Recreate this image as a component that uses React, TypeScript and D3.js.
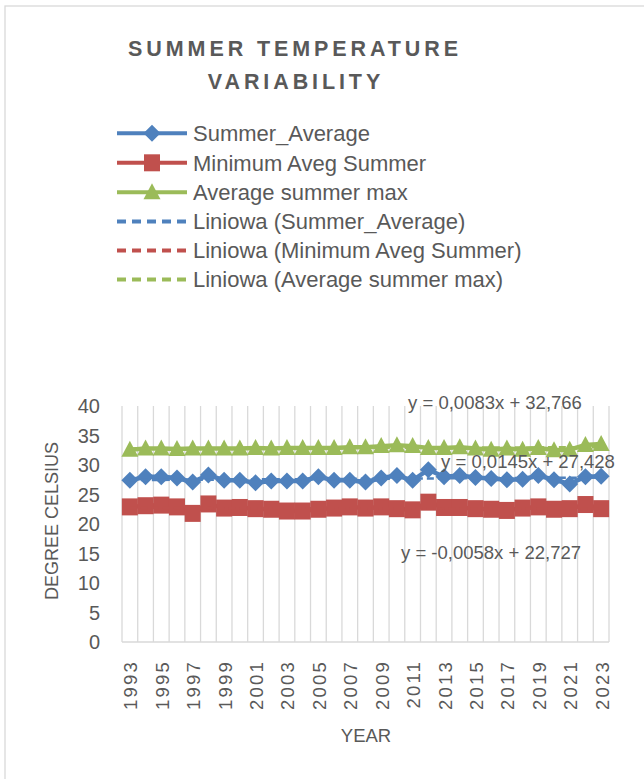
import * as d3 from 'd3';

const years = d3.range(1993, 2024);

const summerAverage = [
  27.4, 28.0, 28.0, 27.8, 27.1, 28.3, 27.4, 27.4, 27.0, 27.3, 27.3, 27.3, 28.0, 27.4, 27.4, 27.1,
  27.8, 28.2, 27.4, 29.2, 28.0, 28.2, 27.9, 27.7, 27.5, 27.6, 28.2, 27.5, 26.8, 28.0, 28.1,
];
const minimumAvegSummer = [
  22.9, 23.1, 23.2, 22.9, 21.8, 23.4, 22.7, 22.8, 22.6, 22.5, 22.2, 22.2, 22.5, 22.7, 22.9, 22.7,
  22.9, 22.6, 22.4, 23.7, 22.8, 22.8, 22.6, 22.5, 22.3, 22.7, 22.9, 22.5, 22.6, 23.3, 22.6,
];
const averageSummerMax = [
  32.6, 32.8, 32.8, 32.7, 32.8, 32.8, 32.8, 32.8, 32.9, 32.8, 32.9, 32.9, 32.9, 32.9, 33.0, 33.0,
  33.2, 33.35, 33.2, 32.9, 32.9, 33.0, 32.8, 32.6, 32.8, 32.6, 32.9, 32.5, 32.6, 33.4, 33.55,
];

// trendline equations as printed on the chart (x = 1..31)
const trendSlopes = [0.0145, -0.0058, 0.0083];
const trendIntercepts = [27.428, 22.727, 32.766];
const trendLabels = ['y = 0,0145x + 27,428', 'y = -0,0058x + 22,727', 'y = 0,0083x + 32,766'];

const seriesNames = ['Summer_Average', 'Minimum Aveg Summer', 'Average summer max'];
const trendNames = [
  'Liniowa (Summer_Average)',
  'Liniowa (Minimum Aveg Summer)',
  'Liniowa (Average summer max)',
];
const yTicks = d3.range(0, 41, 5);

const COLORS = ['#4f81bd', '#c0504d', '#9bbb59'];
const TEXT = '#595959';
const GRID = '#d9d9d9';
const FONT = '"Liberation Sans", Arial, sans-serif';

function Marker({ kind, x, y, color }: { kind: number; x: number; y: number; color: string }) {
  if (kind === 0) {
    const r = 8.5;
    return <polygon points={`${x},${y - r} ${x + r},${y} ${x},${y + r} ${x - r},${y}`} fill={color} />;
  }
  if (kind === 1) {
    return <rect x={x - 8} y={y - 8.5} width={16} height={17} fill={color} />;
  }
  return <polygon points={`${x},${y - 9} ${x + 8.5},${y + 7} ${x - 8.5},${y + 7}`} fill={color} />;
}

export default function App() {
  const W = 644;
  const H = 779;
  const plot = { left: 122, right: 609, top: 406, bottom: 642 };

  const x = d3.scaleBand<number>().domain(years).range([plot.left, plot.right]);
  const cx = (yr: number) => (x(yr) ?? 0) + x.bandwidth() / 2;
  const y = d3.scaleLinear().domain([0, 40]).range([plot.bottom, plot.top]);

  const series = [summerAverage, minimumAvegSummer, averageSummerMax];
  const line = d3
    .line<number>()
    .x((_, i) => cx(years[i]))
    .y(v => y(v));

  const trendLine = (k: number) =>
    d3
      .line<number>()
      .x(yr => cx(yr))
      .y((_, i) => y(trendSlopes[k] * (i + 1) + trendIntercepts[k]))(years) ?? '';

  const gridXs = [...years.map(yr => x(yr) ?? 0), plot.right];

  const legendRows = [133.3, 162.8, 192.2, 221.6, 250.6, 279.6];
  const legendOrder = [0, 1, 2];

  // label anchors for the trend equations (centre x, baseline y)
  const trendLabelPos = [
    { x: 528, y: 468 },
    { x: 491, y: 559 },
    { x: 495, y: 409 },
  ];

  return (
    <svg
      width={W}
      height={H}
      style={{ position: 'absolute', left: 0, top: 0, display: 'block', background: '#fff' }}
      fontFamily={FONT}
    >
      <rect x={5} y={6} width={W + 20} height={H + 20} fill="#fff" stroke={GRID} strokeWidth={1.3} />

      {/* title */}
      <g fill={TEXT} fontWeight="bold" fontSize={21.5} letterSpacing={3.9} textAnchor="middle">
        <text x={295} y={56}>SUMMER TEMPERATURE</text>
        <text x={296} y={89}>VARIABILITY</text>
      </g>

      {/* legend */}
      {legendOrder.map(k => (
        <g key={`leg-${k}`}>
          <line x1={117} x2={187} y1={legendRows[k]} y2={legendRows[k]} stroke={COLORS[k]} strokeWidth={4} />
          <Marker kind={k} x={152} y={legendRows[k]} color={COLORS[k]} />
          <text x={193} y={legendRows[k] + 7.8} fontSize={22} fill={TEXT}>
            {seriesNames[k]}
          </text>
        </g>
      ))}
      {legendOrder.map(k => (
        <g key={`legt-${k}`}>
          <line
            x1={117}
            x2={188}
            y1={legendRows[k + 3]}
            y2={legendRows[k + 3]}
            stroke={COLORS[k]}
            strokeWidth={4}
            strokeDasharray="9 6"
          />
          <text x={193} y={legendRows[k + 3] + 7.8} fontSize={22} fill={TEXT}>
            {trendNames[k]}
          </text>
        </g>
      ))}

      {/* gridlines */}
      {gridXs.map((gx, i) => (
        <line key={`g-${i}`} x1={gx} x2={gx} y1={plot.top} y2={plot.bottom} stroke={GRID} strokeWidth={1.3} />
      ))}
      <line x1={plot.left} x2={plot.right} y1={plot.bottom} y2={plot.bottom} stroke={GRID} strokeWidth={1.3} />

      {/* y axis */}
      {yTicks.map(t => (
        <text key={`yt-${t}`} x={100} y={y(t)} dy="0.35em" textAnchor="end" fontSize={20} fill={TEXT}>
          {t}
        </text>
      ))}
      <text
        transform={`translate(58, 521) rotate(-90)`}
        textAnchor="middle"
        fontSize={18}
        fill={TEXT}
      >
        DEGREE CELSIUS
      </text>

      {/* x axis */}
      {years.map((yr, i) =>
        i % 2 === 0 ? (
          <text
            key={`xt-${yr}`}
            transform={`translate(${cx(yr) + 1}, 660) rotate(-90)`}
            dy="0.35em"
            textAnchor="end"
            fontSize={18.5}
            letterSpacing={2.2}
            fill={TEXT}
          >
            {yr}
          </text>
        ) : null,
      )}
      <text x={366} y={742} textAnchor="middle" fontSize={18.5} fill={TEXT}>
        YEAR
      </text>

      {/* series */}
      {series.map((vals, k) => (
        <g key={`s-${k}`}>
          <path d={line(vals) ?? ''} fill="none" stroke={COLORS[k]} strokeWidth={4.5} />
          {vals.map((v, i) => (
            <Marker key={i} kind={k} x={cx(years[i])} y={y(v)} color={COLORS[k]} />
          ))}
        </g>
      ))}

      {/* trendlines */}
      {series.map((_, k) => (
        <path
          key={`t-${k}`}
          d={trendLine(k)}
          fill="none"
          stroke={COLORS[k]}
          strokeWidth={2.5}
          strokeDasharray="7 4"
        />
      ))}

      {/* trend equations */}
      {trendLabels.map((lbl, k) => (
        <text
          key={`tl-${k}`}
          x={trendLabelPos[k].x}
          y={trendLabelPos[k].y}
          textAnchor="middle"
          fontSize={18.5}
          fill={TEXT}
        >
          {lbl}
        </text>
      ))}
    </svg>
  );
}
